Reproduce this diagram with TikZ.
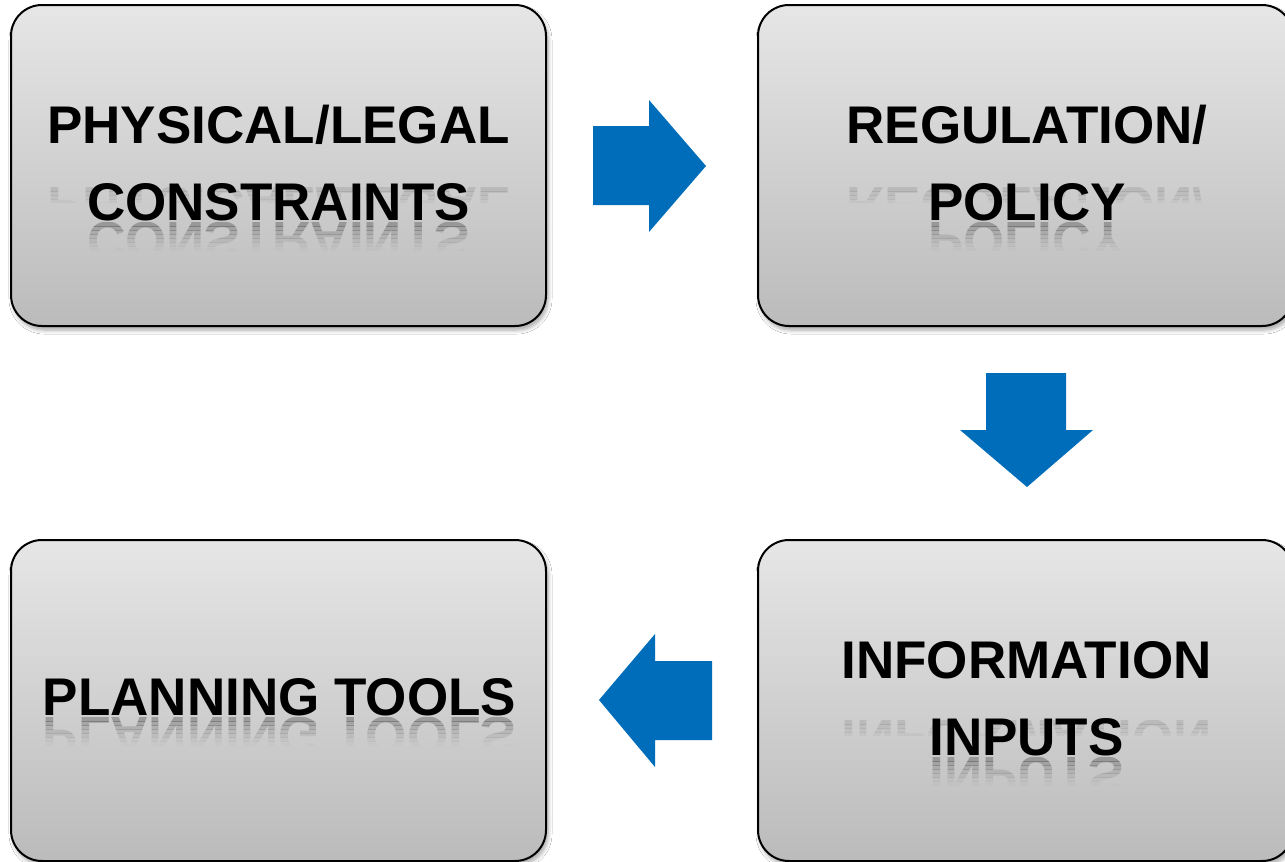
\documentclass[tikz,border=0pt]{standalone}
\usepackage{fontspec}
\setmainfont{Liberation Sans}
\usetikzlibrary{shadows.blur}
\definecolor{arrowblue}{RGB}{0,109,187}
\definecolor{boxtop}{RGB}{230,230,230}
\definecolor{boxbot}{RGB}{187,187,187}
\tikzset{
  box/.style={draw=black, line width=2pt, rounded corners=31pt,
    top color=boxtop, bottom color=boxbot,
    minimum width=535pt, minimum height=321pt, inner sep=0pt,
    blur shadow={shadow xshift=2pt, shadow yshift=-4pt, shadow blur radius=4pt, shadow blur steps=6, shadow opacity=35}},
  lbl/.style={font=\fontsize{53}{64}\selectfont\bfseries, text=black, inner sep=0pt},
  blockarrow/.style={fill=arrowblue, draw=none}
}
% mirrored, fading copy of a line: x, baseline y, gap, opacity factor, text
\newcommand\mirrortext[5]{%
  \foreach \k/\op in {0/0.24,1/0.19,2/0.14,3/0.10,4/0.07,5/0.04,6/0.02}{%
    \begin{scope}
      \clip (#1-300, #2+#3+\k*4) rectangle (#1+300, #2+#3+\k*4+4);
      \node[lbl, anchor=base, yscale=-1, opacity=#4*\op] at (#1, #2+#3) {#5};
    \end{scope}
  }}
\begin{document}
\begin{tikzpicture}[x=1pt, y=-1pt]
\clip (0,0) rectangle (1285,862);
\fill[white] (0,0) rectangle (1285,862);

% boxes
\node[box] (b1) at (278.5,165.5) {};
\node[box] (b2) at (1025.5,165.5) {};
\node[box] (b3) at (278.5,700.5) {};
\node[box] (b4) at (1025.5,700.5) {};

% faint reflections of first lines (behind second lines)
\begin{scope}
\clip (0,186) rectangle (1285,202);
\mirrortext{278.5}{143}{44}{0.4}{PHYSICAL/LEGAL}
\mirrortext{1027}{143}{44}{0.4}{REGULATION/}
\end{scope}
\begin{scope}
\clip (0,719) rectangle (1285,735);
\mirrortext{1026.5}{678}{42}{0.4}{INFORMATION}
\end{scope}

% reflections of last lines
\mirrortext{278.5}{220}{2}{1}{CONSTRAINTS}
\mirrortext{1027}{220}{2}{1}{POLICY}
\mirrortext{279.5}{715}{2}{1}{PLANNING TOOLS}
\mirrortext{1026.5}{755}{2}{1}{INPUTS}

% texts
\node[lbl, anchor=base] (t1a) at (278.5,143) {PHYSICAL/LEGAL};
\node[lbl, anchor=base] (t1b) at (278.5,220) {CONSTRAINTS};
\node[lbl, anchor=base] (t2a) at (1027,143) {REGULATION/};
\node[lbl, anchor=base] (t2b) at (1027,220) {POLICY};
\node[lbl, anchor=base] (t3) at (279.5,715) {PLANNING TOOLS};
\node[lbl, anchor=base] (t4a) at (1026.5,678) {INFORMATION};
\node[lbl, anchor=base] (t4b) at (1026.5,755) {INPUTS};

% block arrows
\fill[blockarrow] (593,126) -- (649,126) -- (649,100) -- (706,166) -- (649,232) -- (649,205) -- (593,205) -- cycle;
\fill[blockarrow] (986,373) -- (1066,373) -- (1066,430) -- (1093,430) -- (1027,487) -- (960,430) -- (986,430) -- cycle;
\fill[blockarrow] (712,661) -- (655,661) -- (655,634) -- (599,700) -- (655,767) -- (655,740) -- (712,740) -- cycle;
\end{tikzpicture}
\end{document}
